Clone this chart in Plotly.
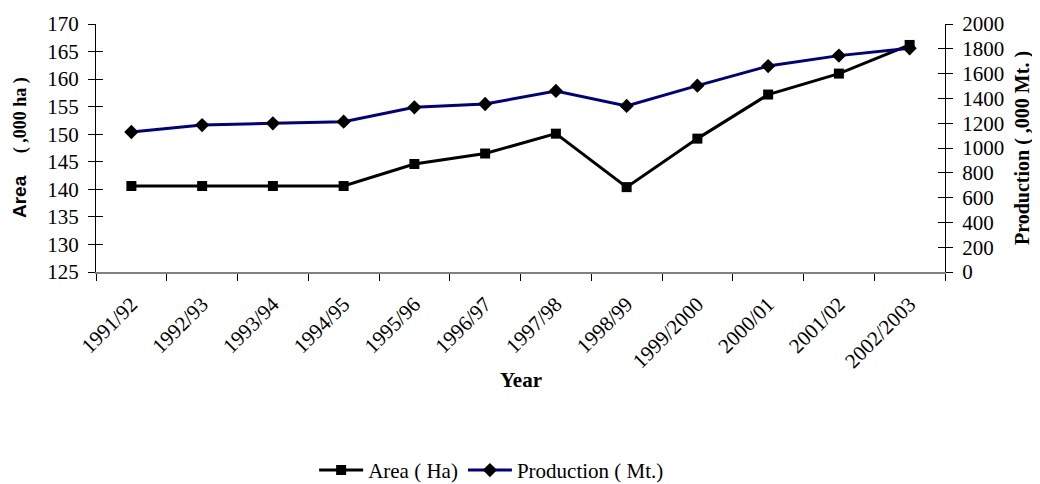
import plotly.graph_objects as go

years = ["1991/92", "1992/93", "1993/94", "1994/95", "1995/96", "1996/97",
         "1997/98", "1998/99", "1999/2000", "2000/01", "2001/02", "2002/2003"]
area = [140.6, 140.6, 140.6, 140.6, 144.6, 146.5, 150.1, 140.4, 149.2, 157.2, 161.0, 166.2]
production = [1129, 1185, 1199, 1212, 1328, 1355, 1460, 1339, 1503, 1661, 1745, 1804]

serif = "Liberation Serif"
tick_font = dict(family=serif, size=21, color="black")

fig = go.Figure()
fig.add_trace(go.Scatter(
    x=years, y=area, name="Area ( Ha)", mode="lines+markers",
    line=dict(color="black", width=3),
    marker=dict(symbol="square", size=10, color="black"),
    yaxis="y"))
fig.add_trace(go.Scatter(
    x=years, y=production, name="Production ( Mt.)", mode="lines+markers",
    line=dict(color="#000080", width=3),
    marker=dict(symbol="diamond", size=11, color="black"),
    yaxis="y2"))

common_y = dict(showgrid=False, zeroline=False, automargin=False,
                ticks="outside", ticklen=7, tickcolor="black", tickwidth=1,
                ticklabelstandoff=5)

# page body has an 8px default margin, so the figure is sized/offset accordingly
fig.update_layout(
    width=1032, height=476,
    margin=dict(l=88, r=95, t=16, b=212, autoexpand=False),
    paper_bgcolor="white", plot_bgcolor="white",
    font=dict(family=serif, size=20, color="black"),
    showlegend=True,
    legend=dict(orientation="h", x=0.466, xanchor="center", y=-0.8, yanchor="middle",
                font=dict(family=serif, size=21), itemwidth=44, tracegroupgap=0),
    xaxis=dict(type="category", tickangle=-45, showline=True, linecolor="#808080",
               linewidth=1.5, ticks="outside", ticklen=7, tickcolor="black",
               tickson="boundaries", showgrid=False, zeroline=False, automargin=False,
               ticklabelstandoff=10, tickfont=tick_font, range=[-0.5, 11.5]),
    yaxis=dict(range=[125, 170], dtick=5, showline=True, linecolor="black", linewidth=1,
               tickfont=tick_font, **common_y),
    yaxis2=dict(range=[0, 2000], dtick=200, overlaying="y", side="right",
                showline=True, linecolor="black", linewidth=1,
                tickfont=tick_font, **common_y),
    yaxis3=dict(range=[125, 170], dtick=5, overlaying="y", side="left",
                showline=False, showticklabels=False, showgrid=False, zeroline=False,
                automargin=False, ticks="inside", ticklen=7, tickcolor="black"),
    yaxis4=dict(range=[0, 2000], dtick=200, overlaying="y", side="right",
                showline=False, showticklabels=False, showgrid=False, zeroline=False,
                automargin=False, ticks="inside", ticklen=7, tickcolor="black"),
    annotations=[
        dict(text="<b>Year</b>", x=0.5, y=-0.435, xref="paper", yref="paper",
             showarrow=False, font=dict(family=serif, size=21), yanchor="middle"),
        dict(text="<b><span style='font-family:Liberation Sans;font-size:19px'>Area</span>"
                  "<span style='font-size:18px'>&nbsp;&nbsp;&nbsp;&nbsp;&nbsp;( ,000 ha )</span></b>",
             x=0, y=0.5, xref="paper", yref="paper", xshift=-76, yshift=0,
             xanchor="center", yanchor="middle", showarrow=False,
             textangle=-90, font=dict(family=serif, size=18)),
        dict(text="<b>Production ( ,000 Mt. )</b>", x=1, y=0.5, xref="paper", yref="paper",
             xshift=77, xanchor="center", yanchor="middle", showarrow=False, textangle=-90,
             font=dict(family=serif, size=20)),
    ],
)
# invisible traces to activate the tick-only overlay axes
fig.add_trace(go.Scatter(x=[years[0]], y=[None], yaxis="y3", showlegend=False,
                         hoverinfo="skip", mode="markers"))
fig.add_trace(go.Scatter(x=[years[0]], y=[None], yaxis="y4", showlegend=False,
                         hoverinfo="skip", mode="markers"))

fig.write_html("out.html")
